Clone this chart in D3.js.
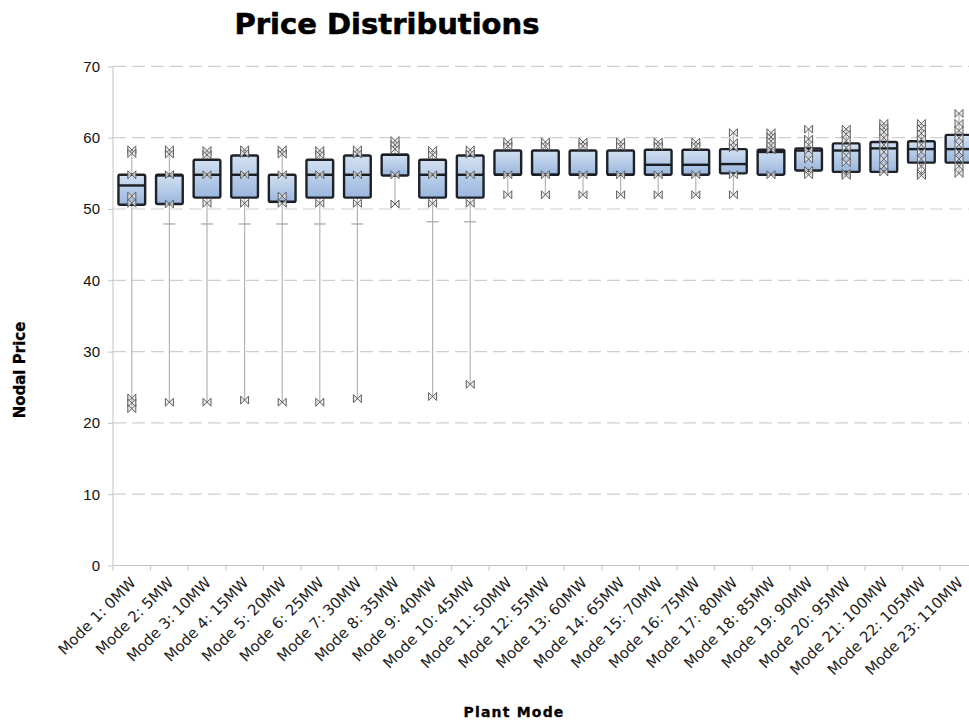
<!DOCTYPE html>
<html>
<head>
<meta charset="utf-8">
<script src="https://cdn.jsdelivr.net/npm/d3@7/dist/d3.min.js"></script>
<style>
  html, body { margin: 0; padding: 0; background: #fff; overflow: hidden; }
  svg { display: block; }
</style>
</head>
<body>
<svg id="chart" width="969" height="722"></svg>
<script>
// Plant modes along the x axis
const categories = [
  "Mode 1: 0MW", "Mode 2: 5MW", "Mode 3: 10MW", "Mode 4: 15MW", "Mode 5: 20MW",
  "Mode 6: 25MW", "Mode 7: 30MW", "Mode 8: 35MW", "Mode 9: 40MW", "Mode 10: 45MW",
  "Mode 11: 50MW", "Mode 12: 55MW", "Mode 13: 60MW", "Mode 14: 65MW", "Mode 15: 70MW",
  "Mode 16: 75MW", "Mode 17: 80MW", "Mode 18: 85MW", "Mode 19: 90MW", "Mode 20: 95MW",
  "Mode 21: 100MW", "Mode 22: 105MW", "Mode 23: 110MW"
];

// Box statistics per mode
const q1 = [50.6, 50.7, 51.6, 51.6, 51.0, 51.6, 51.6, 54.7, 51.6, 51.6,
            54.8, 54.8, 54.8, 54.8, 54.8, 54.8, 55.0, 54.8, 55.4, 55.2, 55.2, 56.5, 56.5];
const medians = [53.3, 54.7, 54.8, 54.8, 51.0, 54.8, 54.8, 57.6, 54.8, 54.8,
            54.8, 54.8, 54.8, 54.8, 56.2, 56.2, 56.3, 58.0, 58.2, 58.2, 58.5, 58.4, 58.4];
const q3 = [54.8, 54.8, 56.9, 57.5, 54.8, 56.9, 57.5, 57.6, 56.9, 57.5,
            58.2, 58.2, 58.2, 58.2, 58.3, 58.3, 58.4, 58.3, 58.5, 59.2, 59.4, 59.5, 60.4];
// Lower whisker caps (null where no cap is drawn)
const lowerCaps = [null, 47.9, 47.9, 47.9, 47.9, 47.9, 47.9, null, 48.2, 48.2,
            null, null, null, null, null, null, null, null, null, null, null, null, null];

// Individual observations marked on each mode
const points = [
  [58.3, 57.8, 54.8, 51.8, 50.8, 23.5, 22.8, 22.0],
  [58.3, 57.7, 54.8, 50.7, 22.9],
  [58.2, 57.6, 54.8, 50.8, 22.9],
  [58.3, 57.8, 54.8, 50.8, 23.2],
  [58.3, 57.7, 54.8, 51.8, 50.8, 22.9],
  [58.2, 57.6, 54.8, 50.8, 22.9],
  [58.3, 57.7, 54.8, 50.8, 23.4],
  [59.6, 59.0, 58.4, 54.8, 50.7],
  [58.2, 57.6, 54.8, 50.8, 23.7],
  [58.3, 57.7, 54.8, 50.8, 25.4],
  [59.4, 58.8, 54.8, 52.0],
  [59.4, 58.8, 54.8, 52.0],
  [59.4, 58.8, 54.8, 52.0],
  [59.4, 58.8, 54.8, 52.0],
  [59.4, 58.8, 54.8, 52.0],
  [59.4, 58.8, 54.8, 52.0],
  [60.7, 59.3, 58.6, 54.8, 52.0],
  [60.7, 60.1, 59.5, 58.9, 58.3, 54.8],
  [61.2, 59.8, 59.0, 58.2, 57.0, 55.4, 54.8],
  [61.2, 60.5, 59.6, 58.6, 57.5, 56.5, 55.0, 54.7],
  [62.0, 61.4, 60.8, 60.0, 59.0, 58.0, 57.0, 56.0, 55.2],
  [62.0, 61.3, 60.6, 59.8, 59.0, 58.0, 57.0, 56.0, 55.0, 54.7],
  [63.4, 62.0, 61.0, 60.0, 59.0, 58.0, 57.0, 56.0, 55.0]
];

const yTicks = [0, 10, 20, 30, 40, 50, 60, 70];

const rows = categories.map((c, i) => ({
  cat: c, q1: q1[i], med: medians[i], q3: q3[i], cap: lowerCaps[i], pts: points[i]
}));

const svg = d3.select("#chart");
const plotLeft = 113, plotTop = 66.4, plotBottom = 565.5, step = 37.6;
const plotRight = plotLeft + step * categories.length;

const x = d3.scaleBand().domain(categories).range([plotLeft, plotRight]).paddingInner(0).paddingOuter(0);
const y = d3.scaleLinear().domain([0, 70]).range([plotBottom, plotTop]);
const boxW = x.bandwidth() * 0.71;

// Box fill: light at the top, deeper blue at the bottom
const defs = svg.append("defs");
const grad = defs.append("linearGradient").attr("id", "boxFill")
  .attr("x1", 0).attr("y1", 0).attr("x2", 0).attr("y2", 1);
grad.append("stop").attr("offset", "0%").attr("stop-color", "#d2e0f1");
grad.append("stop").attr("offset", "100%").attr("stop-color", "#9ab7de");

// Title
svg.append("text")
  .attr("x", 387).attr("y", 34)
  .attr("text-anchor", "middle")
  .style("font-family", "'DejaVu Sans', sans-serif")
  .style("font-weight", "bold").style("font-size", "29px")
  .attr("fill", "#000").attr("stroke", "#000").attr("stroke-width", 0.6)
  .text("Price Distributions");

// Dashed horizontal grid
svg.append("g").selectAll("line")
  .data(yTicks.filter(t => t > 0))
  .join("line")
  .attr("x1", plotLeft).attr("x2", 969)
  .attr("y1", d => y(d)).attr("y2", d => y(d))
  .attr("stroke", "#cfcfcf").attr("stroke-width", 1.2)
  .attr("stroke-dasharray", "13,6");

// Y axis
const yAxis = svg.append("g").attr("transform", `translate(${plotLeft},0)`)
  .call(d3.axisLeft(y).tickValues(yTicks).tickSize(5).tickPadding(8));
yAxis.select(".domain").attr("stroke", "#c4c4c4").attr("d", `M0,${plotBottom}V${plotTop}`);
yAxis.selectAll(".tick line").attr("stroke", "#c4c4c4");
yAxis.selectAll(".tick text")
  .style("font-family", "'Liberation Sans', Arial, sans-serif").style("font-size", "15px").attr("fill", "#111");

// X axis with ticks between modes and slanted labels
const xAxis = svg.append("g").attr("transform", `translate(0,${plotBottom})`);
xAxis.append("line").attr("x1", plotLeft).attr("x2", 969).attr("y1", 0).attr("y2", 0)
  .attr("stroke", "#c4c4c4").attr("stroke-width", 1.2);
xAxis.selectAll("line.tk")
  .data(categories)
  .join("line").attr("class", "tk")
  .attr("x1", d => x(d)).attr("x2", d => x(d))
  .attr("y1", 0).attr("y2", 5)
  .attr("stroke", "#c4c4c4");
xAxis.selectAll("text")
  .data(categories)
  .join("text")
  .attr("transform", d => `translate(${x(d) + x.bandwidth() / 2 + 5},${18}) rotate(-45)`)
  .attr("text-anchor", "end")
  .style("font-family", "'DejaVu Sans', sans-serif").style("font-size", "15px")
  .attr("fill", "#222")
  .text(d => d);

// Axis titles
svg.append("text")
  .attr("transform", `translate(25,370) rotate(-90)`)
  .attr("text-anchor", "middle")
  .style("font-family", "'DejaVu Sans', sans-serif").style("font-weight", "bold").style("font-size", "15px")
  .attr("stroke", "#000").attr("stroke-width", 0.3)
  .text("Nodal Price");
svg.append("text")
  .attr("x", 514).attr("y", 717)
  .attr("text-anchor", "middle")
  .style("font-family", "'DejaVu Sans', sans-serif").style("font-weight", "bold").style("font-size", "14px")
  .style("letter-spacing", "1.2px")
  .attr("stroke", "#000").attr("stroke-width", 0.3)
  .text("Plant Mode");

const g = svg.append("g").selectAll("g.mode")
  .data(rows).join("g").attr("class", "mode")
  .attr("transform", d => `translate(${x(d.cat) + x.bandwidth() / 2},0)`);

// Range line spanning every observation
g.append("line")
  .attr("x1", 0).attr("x2", 0)
  .attr("y1", d => y(d3.min([d.q1, ...d.pts])))
  .attr("y2", d => y(d3.max([d.q3, ...d.pts])))
  .attr("stroke", "#b9b2b6").attr("stroke-width", 1.2);

// Lower whisker caps
g.filter(d => d.cap !== null).append("line")
  .attr("x1", -6).attr("x2", 6)
  .attr("y1", d => y(d.cap)).attr("y2", d => y(d.cap))
  .attr("stroke", "#a9a3a6").attr("stroke-width", 1.2);

// Boxes
g.append("rect")
  .attr("x", -boxW / 2).attr("width", boxW)
  .attr("y", d => y(d.q3))
  .attr("height", d => y(d.q1) - y(d.q3))
  .attr("rx", 1.5)
  .attr("fill", "url(#boxFill)")
  .attr("stroke", "#1e2228").attr("stroke-width", 2.4);

// Medians
g.append("line")
  .attr("x1", -boxW / 2).attr("x2", boxW / 2)
  .attr("y1", d => y(d.med)).attr("y2", d => y(d.med))
  .attr("stroke", "#1a1e24").attr("stroke-width", 2.4);

// Observation markers (bow-tie glyphs)
g.selectAll("path.pt")
  .data(d => d.pts)
  .join("path").attr("class", "pt")
  .attr("transform", v => `translate(0,${y(v)})`)
  .attr("d", "M-4,-4L4,4L4,-4L-4,4Z")
  .attr("fill", "#e6e6e6").attr("fill-opacity", 0.8)
  .attr("stroke", "#5e5e5e").attr("stroke-width", 1);
</script>
</body>
</html>
